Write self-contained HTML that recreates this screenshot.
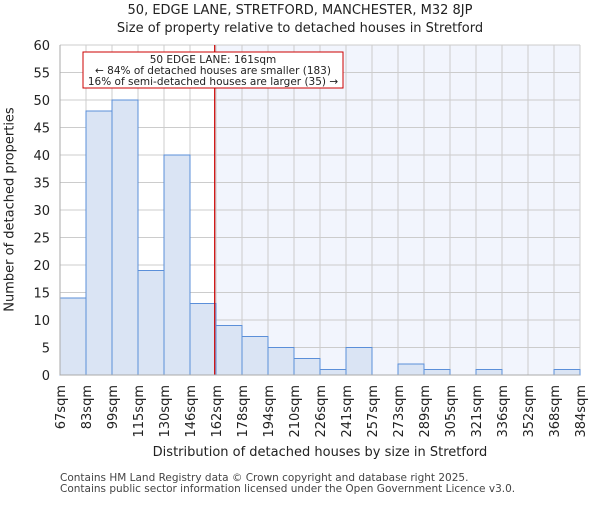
<!DOCTYPE html>
<html><head><meta charset="utf-8"><style>
body{margin:0;background:#fff;}
svg text{font-family:"DejaVu Sans","Liberation Sans",sans-serif;fill:#222;}
</style></head><body>
<svg id="chart" width="600" height="500" xmlns="http://www.w3.org/2000/svg">
<g id="bg"></g><g id="grid"></g><g id="bars"></g><g id="axes"></g>
</svg>
<script>
const binLabels=["67sqm","83sqm","99sqm","115sqm","130sqm","146sqm","162sqm","178sqm","194sqm","210sqm","226sqm","241sqm","257sqm","273sqm","289sqm","305sqm","321sqm","336sqm","352sqm","368sqm","384sqm"];
const counts=[14,48,50,19,40,13,9,7,5,3,1,5,0,2,1,0,1,0,0,1];
const yTicks=[0,5,10,15,20,25,30,35,40,45,50,55,60];
const propertyIndex=5.95;
const NS="http://www.w3.org/2000/svg";
const L=60,R=580,T=45,B=375,yMax=60;
const bw=(R-L)/counts.length;
const xs=i=>L+i*bw;
const ys=v=>B-(B-T)*v/yMax;
function mk(tag,attrs,parent,text){const e=document.createElementNS(NS,tag);for(const k in attrs)e.setAttribute(k,attrs[k]);if(text!==undefined)e.textContent=text;document.getElementById(parent)?document.getElementById(parent).appendChild(e):parent.appendChild(e);return e;}
const svg=document.getElementById('chart');
const rx=xs(propertyIndex);
let e=mk('rect',{x:rx,y:T,width:R-rx,height:B-T,fill:'#f2f5fd'},'bg');


yTicks.forEach(v=>{let l=mk('line',{x1:L,x2:R,y1:ys(v),y2:ys(v),stroke:'#cccccc','stroke-width':1},'grid');


let t=mk('text',{x:L-10,y:ys(v)+5,'text-anchor':'end','font-size':13},'axes',v);

});
binLabels.forEach((s,i)=>{let l=mk('line',{x1:xs(i),x2:xs(i),y1:T,y2:B,stroke:'#cccccc','stroke-width':1},'grid');


let t=mk('text',{x:0,y:0,'text-anchor':'end','font-size':13,transform:`translate(${xs(i)+5},385) rotate(-90)`},'axes',s);

});
counts.forEach((v,i)=>{let b=mk('rect',{x:xs(i),y:ys(v),width:bw,height:B-ys(v),fill:'#dae4f4',stroke:'#5b8fd9','stroke-width':1},'bars');

});
e=mk('line',{x1:rx,x2:rx,y1:T,y2:B,stroke:'#cc0000','stroke-width':1.2},'bars');


const g=mk('g',{},'axes');


mk('rect',{x:83,y:52,width:260,height:36,fill:'#fff',stroke:'#cc0000','stroke-width':1},g);
mk('text',{x:213,y:63,'text-anchor':'middle','font-size':10.5},g,'50 EDGE LANE: 161sqm');
mk('text',{x:213,y:74,'text-anchor':'middle','font-size':10.5},g,'← 84% of detached houses are smaller (183)');
mk('text',{x:213,y:85,'text-anchor':'middle','font-size':10.5},g,'16% of semi-detached houses are larger (35) →');
mk('line',{x1:L,x2:L,y1:T,y2:B,stroke:'#aaa'},'axes');
mk('line',{x1:L,x2:R,y1:B,y2:B,stroke:'#aaa'},'axes');
</script>
<div style="position:absolute;left:0;top:0;width:600px;">
<div style="position:absolute;top:2px;width:600px;text-align:center;font:13px 'DejaVu Sans',sans-serif;line-height:18px;color:#222;">50, EDGE LANE, STRETFORD, MANCHESTER, M32 8JP<br>Size of property relative to detached houses in Stretford</div>
<div style="position:absolute;top:445px;left:60px;width:520px;text-align:center;font:13px 'DejaVu Sans',sans-serif;color:#222;">Distribution of detached houses by size in Stretford</div>
<div style="position:absolute;left:-95px;top:202px;width:210px;text-align:center;transform:rotate(-90deg);font:13px 'DejaVu Sans',sans-serif;color:#222;">Number of detached properties</div>
<div style="position:absolute;left:60px;top:473px;font:10.5px 'DejaVu Sans',sans-serif;line-height:11px;color:#444;">Contains HM Land Registry data © Crown copyright and database right 2025.<br>Contains public sector information licensed under the Open Government Licence v3.0.</div>
</div>
</body></html>
